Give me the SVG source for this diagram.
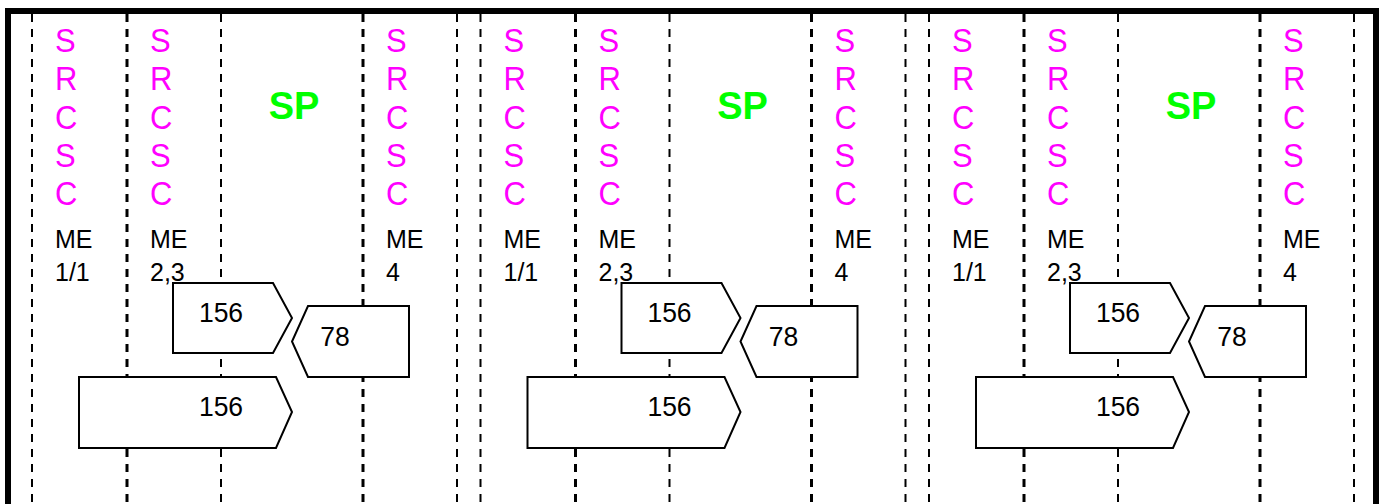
<svg xmlns="http://www.w3.org/2000/svg" width="1383" height="504" viewBox="0 0 1383 504">
  <style>
    .lane { fill: none; stroke: #000; stroke-dasharray: 8 7; }
    .thin { stroke-width: 2; }
    .thick { stroke-width: 3; }
    .box { fill: #fff; stroke: #000; stroke-width: 2; stroke-linejoin: miter; }
    .srcsc { font-family: "Liberation Sans", Arial, sans-serif; font-size: 31px; fill: #ff00ff; }
    .me { font-family: "Liberation Sans", Arial, sans-serif; font-size: 25px; fill: #000; }
    .num { font-family: "Liberation Sans", Arial, sans-serif; font-size: 26.5px; fill: #000; text-anchor: middle; }
    .sp { font-family: "Liberation Sans", Arial, sans-serif; font-size: 38px; font-weight: bold; fill: #00ff00; text-anchor: middle; }
  </style>
  <defs>
    <!-- station column label: vertical SRCSC, slightly tall type -->
    <text id="srcsc" class="srcsc" transform="scale(1,1.08)"><tspan x="0" y="0">S</tspan><tspan x="0" y="35.5">R</tspan><tspan x="0" y="71">C</tspan><tspan x="0" y="106.4">S</tspan><tspan x="0" y="141.9">C</tspan></text>
  </defs>
  <rect width="1383" height="504" fill="#fff"/>

  <!-- outer frame, open at the bottom -->
  <path d="M8,504 V11 H1376 V504" fill="none" stroke="#000" stroke-width="6"/>

  <!-- station lanes (dashed), three identical panels -->
  <g id="connectors">
    <g id="lanes-1">
      <line class="lane thin" x1="32" y1="14" x2="32" y2="504"/>
      <line class="lane thick" x1="127" y1="14" x2="127" y2="504"/>
      <line class="lane thin" x1="221" y1="14" x2="221" y2="504"/>
      <line class="lane thick" x1="363" y1="14" x2="363" y2="504"/>
      <line class="lane thin" x1="457" y1="14" x2="457" y2="504"/>
    </g>
    <g id="lanes-2" transform="translate(448.5,0)">
      <line class="lane thin" x1="32" y1="14" x2="32" y2="504"/>
      <line class="lane thick" x1="127" y1="14" x2="127" y2="504"/>
      <line class="lane thin" x1="221" y1="14" x2="221" y2="504"/>
      <line class="lane thick" x1="363" y1="14" x2="363" y2="504"/>
      <line class="lane thin" x1="457" y1="14" x2="457" y2="504"/>
    </g>
    <g id="lanes-3" transform="translate(897,0)">
      <line class="lane thin" x1="32" y1="14" x2="32" y2="504"/>
      <line class="lane thick" x1="127" y1="14" x2="127" y2="504"/>
      <line class="lane thin" x1="221" y1="14" x2="221" y2="504"/>
      <line class="lane thick" x1="363" y1="14" x2="363" y2="504"/>
      <line class="lane thin" x1="457" y1="14" x2="457" y2="504"/>
    </g>
  </g>

  <!-- panel 1 -->
  <g id="panel-1">
    <g id="p1-col-me11">
      <use href="#srcsc" x="55" y="52"/>
      <text class="me" transform="translate(55,248) scale(1,1.06)"><tspan x="0" y="0">ME</tspan><tspan x="0" y="31.2">1/1</tspan></text>
    </g>
    <g id="p1-col-me23">
      <use href="#srcsc" x="150" y="52"/>
      <text class="me" transform="translate(150,248) scale(1,1.06)"><tspan x="0" y="0">ME</tspan><tspan x="0" y="31.2">2,3</tspan></text>
    </g>
    <g id="p1-col-sp">
      <text class="sp" x="294" y="119">SP</text>
    </g>
    <g id="p1-col-me4">
      <use href="#srcsc" x="386" y="52"/>
      <text class="me" transform="translate(386,248) scale(1,1.06)"><tspan x="0" y="0">ME</tspan><tspan x="0" y="31.2">4</tspan></text>
    </g>
    <g id="p1-seg-156a">
      <polygon class="box" points="173,283 273,283 292,318 273,353 173,353"/>
      <text class="num" transform="translate(221,322) scale(1,1.05)">156</text>
    </g>
    <g id="p1-seg-78">
      <polygon class="box" points="308,306 409,306 409,377 308,377 292,341.5"/>
      <text class="num" transform="translate(335,346) scale(1,1.05)">78</text>
    </g>
    <g id="p1-seg-156b">
      <polygon class="box" points="79,377 276,377 292,412 276,448 79,448"/>
      <text class="num" transform="translate(221,416) scale(1,1.05)">156</text>
    </g>
  </g>

  <!-- panel 2 -->
  <g id="panel-2" transform="translate(448.5,0)">
    <g id="p2-col-me11">
      <use href="#srcsc" x="55" y="52"/>
      <text class="me" transform="translate(55,248) scale(1,1.06)"><tspan x="0" y="0">ME</tspan><tspan x="0" y="31.2">1/1</tspan></text>
    </g>
    <g id="p2-col-me23">
      <use href="#srcsc" x="150" y="52"/>
      <text class="me" transform="translate(150,248) scale(1,1.06)"><tspan x="0" y="0">ME</tspan><tspan x="0" y="31.2">2,3</tspan></text>
    </g>
    <g id="p2-col-sp">
      <text class="sp" x="294" y="119">SP</text>
    </g>
    <g id="p2-col-me4">
      <use href="#srcsc" x="386" y="52"/>
      <text class="me" transform="translate(386,248) scale(1,1.06)"><tspan x="0" y="0">ME</tspan><tspan x="0" y="31.2">4</tspan></text>
    </g>
    <g id="p2-seg-156a">
      <polygon class="box" points="173,283 273,283 292,318 273,353 173,353"/>
      <text class="num" transform="translate(221,322) scale(1,1.05)">156</text>
    </g>
    <g id="p2-seg-78">
      <polygon class="box" points="308,306 409,306 409,377 308,377 292,341.5"/>
      <text class="num" transform="translate(335,346) scale(1,1.05)">78</text>
    </g>
    <g id="p2-seg-156b">
      <polygon class="box" points="79,377 276,377 292,412 276,448 79,448"/>
      <text class="num" transform="translate(221,416) scale(1,1.05)">156</text>
    </g>
  </g>

  <!-- panel 3 -->
  <g id="panel-3" transform="translate(897,0)">
    <g id="p3-col-me11">
      <use href="#srcsc" x="55" y="52"/>
      <text class="me" transform="translate(55,248) scale(1,1.06)"><tspan x="0" y="0">ME</tspan><tspan x="0" y="31.2">1/1</tspan></text>
    </g>
    <g id="p3-col-me23">
      <use href="#srcsc" x="150" y="52"/>
      <text class="me" transform="translate(150,248) scale(1,1.06)"><tspan x="0" y="0">ME</tspan><tspan x="0" y="31.2">2,3</tspan></text>
    </g>
    <g id="p3-col-sp">
      <text class="sp" x="294" y="119">SP</text>
    </g>
    <g id="p3-col-me4">
      <use href="#srcsc" x="386" y="52"/>
      <text class="me" transform="translate(386,248) scale(1,1.06)"><tspan x="0" y="0">ME</tspan><tspan x="0" y="31.2">4</tspan></text>
    </g>
    <g id="p3-seg-156a">
      <polygon class="box" points="173,283 273,283 292,318 273,353 173,353"/>
      <text class="num" transform="translate(221,322) scale(1,1.05)">156</text>
    </g>
    <g id="p3-seg-78">
      <polygon class="box" points="308,306 409,306 409,377 308,377 292,341.5"/>
      <text class="num" transform="translate(335,346) scale(1,1.05)">78</text>
    </g>
    <g id="p3-seg-156b">
      <polygon class="box" points="79,377 276,377 292,412 276,448 79,448"/>
      <text class="num" transform="translate(221,416) scale(1,1.05)">156</text>
    </g>
  </g>
</svg>
